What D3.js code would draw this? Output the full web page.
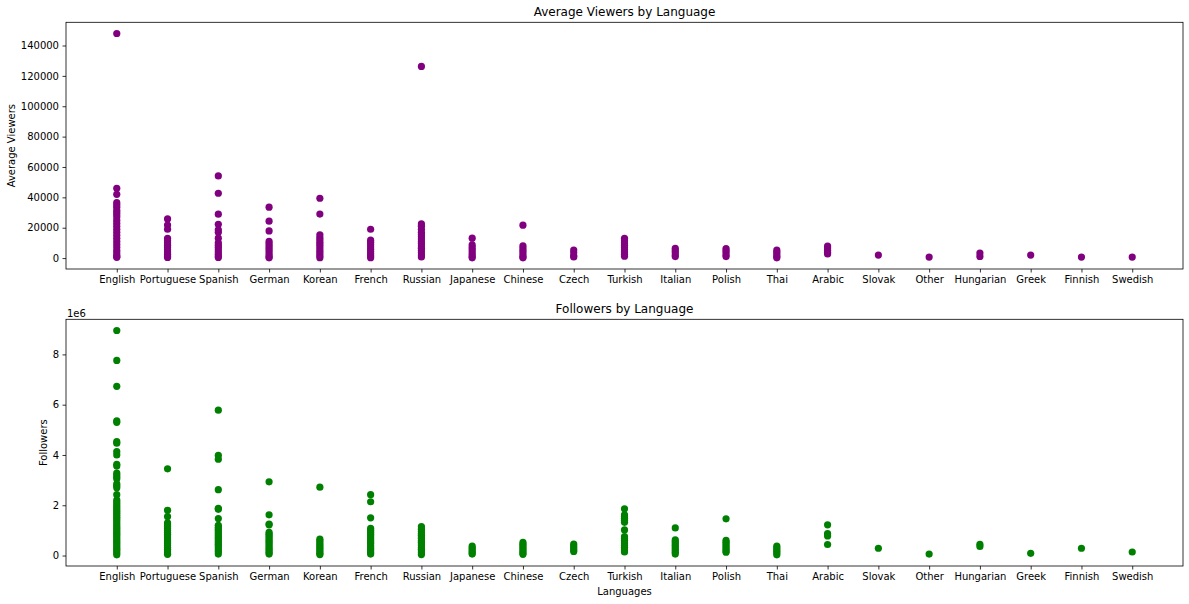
<!DOCTYPE html>
<html>
<head>
<meta charset="utf-8">
<script src="https://cdn.jsdelivr.net/npm/d3@7"></script>
<style>
  body { margin: 0; background: #fff; }
  text { font-family: "DejaVu Sans", sans-serif; fill: #000; }
</style>
</head>
<body>
<svg id="chart" width="1189" height="604"></svg>
<script>
// languages in the order they show on the x axis
const languages = ['English', 'Portuguese', 'Spanish', 'German', 'Korean', 'French', 'Russian',
  'Japanese', 'Chinese', 'Czech', 'Turkish', 'Italian', 'Polish', 'Thai', 'Arabic', 'Slovak',
  'Other', 'Hungarian', 'Greek', 'Finnish', 'Swedish']

// average viewers, one list per language
const avgViewers = [
  [147900, 46000, 42000, 36500, 35000, 33500, 31500, 30000, 28500, 27000, 25000, 23000, 21000, 19000, 17000, 15000, 13000, 11000, 9000, 7000, 5000, 3500, 2000, 1000, 500],
  [25800, 21800, 19000, 13000, 11500, 10000, 8500, 7000, 5500, 4000, 2500, 1200, 400],
  [54100, 42700, 28900, 22300, 18600, 17000, 13100, 10000, 8500, 7000, 5500, 4000, 2500, 1200, 400],
  [33500, 24300, 17900, 11000, 9500, 8000, 6500, 5000, 3500, 2000, 800, 200],
  [39400, 29000, 15300, 13500, 12000, 10500, 9000, 7500, 6000, 4500, 3000, 1500, 300],
  [19000, 11800, 10300, 8800, 7300, 5800, 4300, 2800, 1300, 300],
  [126200, 22500, 21000, 19000, 17000, 15500, 14000, 12500, 11000, 9500, 8000, 6500, 5000, 3500, 2000, 800],
  [13100, 8700, 7000, 5500, 4000, 2500, 1000, 200],
  [21700, 8100, 6600, 5100, 3600, 2100, 800, 200],
  [5300, 3500, 1500, 800],
  [13000, 11500, 10000, 8500, 7000, 5500, 4000, 2500, 1200],
  [6400, 5000, 3600, 2200, 1000],
  [6300, 5000, 3600, 2200, 1000],
  [5200, 3800, 2400, 1000, 200],
  [7900, 6600, 5200, 3900, 2700],
  [2000],
  [660],
  [3300, 1100],
  [2000],
  [700],
  [700]
]

// followers, one list per language
const followers = [
  [8950000, 7760000, 6730000, 5360000, 5300000, 4530000, 4470000, 4130000, 4000000, 3630000, 3560000, 3280000, 3200000, 3120000, 3050000, 2850000, 2780000, 2700000, 2420000, 2210000, 2130000, 2050000, 1970000, 1900000, 1820000, 1750000, 1680000, 1600000, 1520000, 1450000, 1380000, 1300000, 1220000, 1150000, 1080000, 1000000, 920000, 850000, 780000, 700000, 620000, 550000, 480000, 400000, 320000, 250000, 180000, 100000, 30000],
  [3450000, 1800000, 1550000, 1300000, 1220000, 1150000, 1080000, 1000000, 920000, 850000, 780000, 700000, 620000, 550000, 480000, 400000, 320000, 250000, 180000, 100000, 50000],
  [5780000, 3980000, 3830000, 2620000, 1880000, 1840000, 1470000, 1200000, 1120000, 1050000, 980000, 900000, 820000, 750000, 680000, 600000, 520000, 450000, 380000, 300000, 220000, 150000, 60000],
  [2930000, 1620000, 1250000, 1220000, 920000, 850000, 780000, 700000, 620000, 550000, 480000, 400000, 320000, 250000, 180000, 110000, 60000],
  [2720000, 650000, 580000, 500000, 430000, 360000, 290000, 220000, 150000, 80000, 40000],
  [2420000, 2140000, 1500000, 1080000, 1000000, 920000, 850000, 780000, 700000, 620000, 550000, 480000, 400000, 320000, 250000, 180000, 110000, 60000],
  [1150000, 1050000, 960000, 880000, 810000, 740000, 670000, 600000, 530000, 460000, 390000, 320000, 250000, 180000, 110000, 40000],
  [380000, 310000, 240000, 170000, 100000, 60000],
  [520000, 450000, 380000, 310000, 240000, 170000, 100000, 50000],
  [460000, 380000, 300000, 220000, 160000],
  [1860000, 1620000, 1550000, 1480000, 1400000, 1320000, 1020000, 750000, 680000, 610000, 540000, 470000, 400000, 330000, 260000, 190000, 140000],
  [1100000, 620000, 550000, 480000, 410000, 340000, 270000, 200000, 130000, 60000],
  [1460000, 600000, 530000, 460000, 390000, 320000, 250000, 180000, 130000],
  [380000, 310000, 240000, 170000, 100000, 30000],
  [1220000, 870000, 780000, 440000],
  [290000],
  [60000],
  [450000, 360000],
  [90000],
  [290000],
  [140000]
]

const svg = d3.select('#chart')
const left = 66
const right = 1183

// matplotlib style 5% margin around the data
function padded (lists) {
  let all = lists.flat()
  let lo = d3.min(all)
  let hi = d3.max(all)
  let m = (hi - lo) * 0.05
  return [lo - m, hi + m]
}

function drawPanel (opts) {
  let x = d3.scalePoint().domain(languages).range([left, right]).padding(1)
  let y = d3.scaleLinear().domain(padded(opts.values)).range([opts.bottom, opts.top])

  let g = svg.append('g')

  let points = []
  opts.values.forEach((list, i) => {
    list.forEach(v => points.push({ lang: languages[i], v: v }))
  })

  g.selectAll('circle')
    .data(points)
    .enter().append('circle')
    .attr('cx', d => x(d.lang))
    .attr('cy', d => y(d.v))
    .attr('r', 3.6)
    .attr('fill', opts.color)

  let xAxis = g.append('g')
    .attr('transform', `translate(0,${opts.bottom})`)
    .call(d3.axisBottom(x).tickSize(3.5).tickPadding(3.5))
  let yAxis = g.append('g')
    .attr('transform', `translate(${left},0)`)
    .call(d3.axisLeft(y).ticks(opts.ticks).tickSize(3.5).tickPadding(3.5).tickFormat(opts.fmt))

  ;[xAxis, yAxis].forEach(a => {
    a.select('.domain').remove()
    a.selectAll('line').attr('stroke', '#000').attr('stroke-width', 0.8)
    a.selectAll('text').attr('font-size', 10).attr('font-family', 'DejaVu Sans').attr('fill', '#000')
  })

  g.append('rect')
    .attr('x', left)
    .attr('y', opts.top)
    .attr('width', right - left)
    .attr('height', opts.bottom - opts.top)
    .attr('fill', 'none')
    .attr('stroke', '#000')
    .attr('stroke-width', 0.8)

  g.append('text')
    .attr('x', (left + right) / 2)
    .attr('y', opts.top - 6)
    .attr('text-anchor', 'middle')
    .attr('font-size', 12)
    .text(opts.title)

  g.append('text')
    .attr('transform', `translate(${opts.labelX},${(opts.top + opts.bottom) / 2}) rotate(-90)`)
    .attr('text-anchor', 'middle')
    .attr('font-size', 10)
    .text(opts.ylabel)
}

drawPanel({
  values: avgViewers,
  top: 22.3,
  bottom: 269,
  color: 'purple',
  ticks: 8,
  fmt: d3.format('d'),
  title: 'Average Viewers by Language',
  ylabel: 'Average Viewers',
  labelX: 15
})

drawPanel({
  values: followers,
  top: 319.3,
  bottom: 566,
  color: 'green',
  ticks: 5,
  fmt: d => d3.format('d')(d / 1e6),
  title: 'Followers by Language',
  ylabel: 'Followers',
  labelX: 47
})

// offset label and x axis title
svg.append('text')
  .attr('x', left + 1)
  .attr('y', 316.5)
  .attr('font-size', 10)
  .text('1e6')

svg.append('text')
  .attr('x', (left + right) / 2)
  .attr('y', 595)
  .attr('text-anchor', 'middle')
  .attr('font-size', 10)
  .text('Languages')
</script>
</body>
</html>
